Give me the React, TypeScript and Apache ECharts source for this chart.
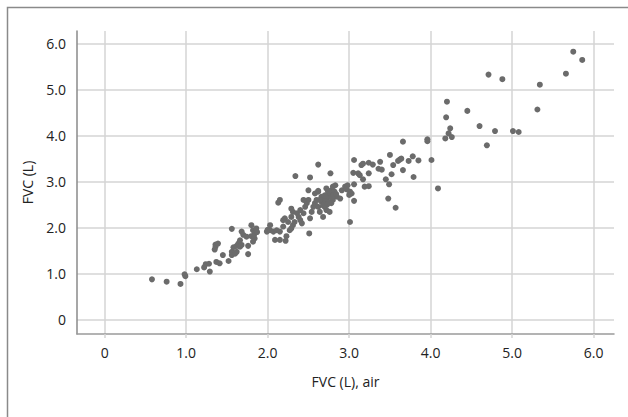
import React, { useEffect, useRef } from "react";
import * as echarts from "echarts";

// FVC (L), air  — x values
const airFVC: number[] = [
  0.58, 0.76, 0.93, 0.99, 0.98, 1.13, 1.22, 1.24, 1.28, 1.29, 1.37, 1.41, 1.36, 1.36, 1.35, 1.39, 1.45, 1.52, 1.56, 1.56,
  1.58, 1.56, 1.62, 1.64, 1.62, 1.66, 1.60, 1.68, 1.70, 1.74, 1.66, 1.68, 1.76, 1.76, 1.80, 1.82, 1.84, 1.80, 1.86, 1.84,
  1.82, 1.99, 2.00, 2.03, 1.83, 1.87,
  2.03, 2.07, 2.11, 2.15, 2.09, 2.15, 2.22, 2.23, 2.27, 2.19, 2.19, 2.21, 2.29, 2.31, 2.25, 2.29, 2.31, 2.29, 2.36, 2.38,
  2.40, 2.42, 2.33, 2.44, 2.46, 2.48, 2.50, 2.44, 2.40, 2.52, 2.54, 2.56, 2.58, 2.60, 2.62, 2.64, 2.66, 2.68, 2.70, 2.72,
  2.74, 2.76, 2.78, 2.80, 2.82, 2.85, 2.89, 2.72, 2.76, 2.68, 2.78, 2.80, 2.58, 2.62, 2.66, 2.72, 2.74, 2.91, 2.95, 2.98,
  2.51, 3.01, 2.15, 2.13, 2.62, 2.34, 2.52, 2.77, 2.50, 2.62, 2.83,
  2.70, 2.73, 2.75, 2.78, 2.68, 2.64, 2.81, 2.84, 2.70,
  3.66, 3.96, 3.96, 3.06, 3.50, 3.62, 3.64, 3.60, 3.78, 3.85, 3.73, 4.01, 3.15, 3.17, 3.24, 3.29, 3.38, 3.36, 3.40, 3.54,
  3.66, 3.52, 3.79, 3.05, 3.11, 3.13, 3.24, 3.17, 3.45, 3.49, 3.19, 3.24, 3.06, 2.97, 3.01, 3.03, 3.00, 3.06, 3.48, 3.57,
  4.09, 4.18, 4.22,
  5.75, 5.86, 5.66, 5.34, 5.31, 4.71, 4.88, 4.20, 4.19, 4.45, 4.60, 4.79, 5.01, 5.08, 4.69, 4.24, 4.26,
];

// FVC (L) — y values
const fvcValues: number[] = [
  0.87, 0.82, 0.77, 0.94, 0.98, 1.09, 1.13, 1.20, 1.21, 1.04, 1.25, 1.22, 1.63, 1.58, 1.52, 1.65, 1.40, 1.27, 1.97, 1.47,
  1.57, 1.40, 1.60, 1.65, 1.47, 1.58, 1.43, 1.91, 1.84, 1.80, 1.72, 1.62, 1.60, 1.42, 2.05, 1.94, 1.87, 1.81, 1.98, 1.76,
  1.69, 1.91, 1.95, 2.05, 1.82, 1.90,
  1.94, 1.91, 1.94, 1.91, 1.73, 1.73, 1.71, 1.81, 1.94, 2.02, 2.16, 2.20, 1.98, 2.05, 2.12, 2.23, 2.34, 2.41, 2.31, 2.23,
  2.16, 2.09, 2.12, 2.31, 2.45, 2.53, 2.60, 2.60, 2.38, 2.20, 2.34, 2.45, 2.53, 2.60, 2.45, 2.34, 2.56, 2.63, 2.53, 2.60,
  2.67, 2.74, 2.81, 2.89, 2.78, 2.67, 2.63, 2.38, 2.34, 2.23, 2.53, 2.60, 2.74, 2.78, 2.67, 2.85, 2.78, 2.81, 2.89, 2.92,
  1.87, 2.12, 2.60, 2.54, 3.37, 3.12, 3.09, 3.18, 2.81, 2.80, 2.92,
  2.45, 2.50, 2.55, 2.65, 2.48, 2.60, 2.70, 2.73, 2.70,
  3.87, 3.92, 3.88, 3.47, 3.58, 3.48, 3.50, 3.45, 3.55, 3.46, 3.45, 3.47, 3.36, 3.39, 3.41, 3.37, 3.43, 3.28, 3.26, 3.36,
  3.25, 3.16, 3.10, 3.19, 3.18, 3.14, 3.18, 3.05, 3.05, 2.94, 2.89, 2.90, 2.94, 2.83, 2.78, 2.74, 2.71, 2.58, 2.63, 2.43,
  2.85, 3.94, 4.05,
  5.83, 5.65, 5.35, 5.11, 4.57, 5.33, 5.23, 4.74, 4.40, 4.54, 4.21, 4.10, 4.10, 4.08, 3.79, 4.16, 3.97,
];

const xAxisTitle = "FVC (L), air";
const yAxisTitle = "FVC (L)";

const fmt = (v: number) => (v === 0 ? "0" : v.toFixed(1));

export default function App() {
  const ref = useRef<HTMLDivElement>(null);

  useEffect(() => {
    if (!ref.current) return;
    const chart = echarts.init(ref.current, null, { renderer: "svg" });
    const points = airFVC.map((x, i) => [x, fvcValues[i]]);
    const font = "'Open Sans', 'Noto Sans', sans-serif";
    const labelStyle = { color: "#222222", fontSize: 14, fontFamily: font };

    chart.setOption({
      animation: false,
      backgroundColor: "#ffffff",
      graphic: [
        {
          type: "rect",
          shape: { x: 7.5, y: 7.5, width: 800, height: 600 },
          style: { fill: "none", stroke: "#8a8a8a", lineWidth: 1.5 },
          silent: true,
        },
      ],
      grid: { left: 77, top: 31, width: 537, height: 303, containLabel: false },
      xAxis: {
        type: "value",
        min: -0.34,
        max: 6.25,
        splitNumber: 7,
        name: xAxisTitle,
        nameLocation: "middle",
        nameGap: 40,
        nameTextStyle: { ...labelStyle },
        axisLine: { show: true, onZero: false, lineStyle: { color: "#9a9a9a", width: 1.5 } },
        axisTick: { show: true, length: 4, lineStyle: { color: "#d4d4d4", width: 1.5 } },
        axisLabel: { ...labelStyle, margin: 11, showMinLabel: false, showMaxLabel: false, formatter: fmt },
        splitLine: { show: true, showMinLine: false, showMaxLine: false, lineStyle: { color: "#d4d4d4", width: 1.5 } },
      },
      yAxis: {
        type: "value",
        min: -0.32,
        max: 6.28,
        splitNumber: 7,
        name: yAxisTitle,
        nameLocation: "middle",
        nameGap: 43,
        nameTextStyle: { ...labelStyle },
        axisLine: { show: true, onZero: false, lineStyle: { color: "#8a8a8a", width: 1.5 } },
        axisTick: { show: false },
        axisLabel: { ...labelStyle, margin: 11, showMinLabel: false, showMaxLabel: false, formatter: fmt },
        splitLine: { show: true, showMinLine: false, showMaxLine: false, lineStyle: { color: "#d4d4d4", width: 1.5 } },
      },
      series: [
        {
          type: "scatter",
          data: points,
          symbol: "circle",
          symbolSize: 6,
          itemStyle: { color: "#6b6b6b", opacity: 1 },
        },
      ],
    });

    return () => chart.dispose();
  }, []);

  return (
    <div
      ref={ref}
      style={{ position: "absolute", left: 0, top: 0, width: 628, height: 417, background: "#fff" }}
    />
  );
}
